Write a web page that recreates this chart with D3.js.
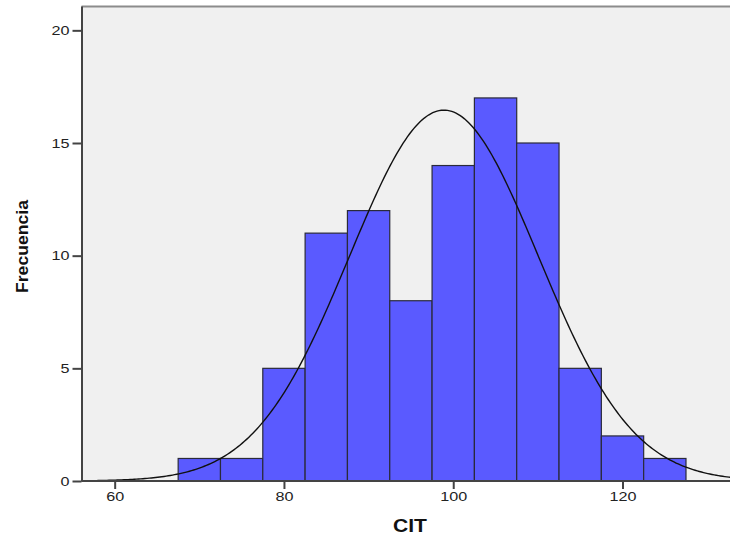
<!DOCTYPE html>
<html>
<head>
<meta charset="utf-8">
<script src="https://cdn.jsdelivr.net/npm/d3@7"></script>
<style>
  body { margin: 0; background: #fff; }
  svg { display: block; font-family: Arial, "Liberation Sans", sans-serif; }
</style>
</head>
<body>
<div id="chart"></div>
<script>
(function () {
  // histogram bins (lower edge) and counts
  let binStarts = [67.5, 72.5, 77.5, 82.5, 87.5, 92.5, 97.5, 102.5, 107.5, 112.5, 117.5, 122.5];
  let binWidth = 5;
  let counts = [1, 1, 5, 11, 12, 8, 14, 17, 15, 5, 2, 1];
  let xTicks = [60, 80, 100, 120];
  let yTicks = [0, 5, 10, 15, 20];
  // fitted normal curve parameters
  let curveMean = 98.9;
  let curveSd = 11.15;
  let curveN = 92;

  let margin = { top: 6, right: 0, bottom: 54, left: 81.5 };
  let width = 730 - margin.left - margin.right;
  let height = 535 - margin.top - margin.bottom;

  let x = d3.scaleLinear().domain([56.08, 132.7]).range([0, width]);
  let y = d3.scaleLinear().domain([0, 21.08]).range([height, 0]);

  let svg = d3
    .select('#chart')
    .append('svg')
    .attr('width', 730)
    .attr('height', 535);

  let g = svg.append('g').attr('transform', `translate(${margin.left}, ${margin.top})`);

  g.append('rect')
    .attr('x', 0)
    .attr('y', 0)
    .attr('width', width + 2)
    .attr('height', height)
    .attr('fill', '#f0f0f0');

  g.append('line')
    .attr('x1', 0)
    .attr('x2', width + 2)
    .attr('y1', 0.5)
    .attr('y2', 0.5)
    .attr('stroke', '#8c8c8c')
    .attr('stroke-width', 2);

  let data = binStarts.map((s, i) => ({ x0: s, x1: s + binWidth, count: counts[i] }));

  g.append('g')
    .selectAll('rect')
    .data(data)
    .enter()
    .append('rect')
    .attr('x', (d) => x(d.x0))
    .attr('y', (d) => y(d.count))
    .attr('width', (d) => x(d.x1) - x(d.x0))
    .attr('height', (d) => y(0) - y(d.count))
    .attr('fill', '#5a5aff')
    .attr('stroke', '#2a2a3a')
    .attr('stroke-width', 1.2);

  let dens = (v) =>
    (curveN * binWidth) / (curveSd * Math.sqrt(2 * Math.PI)) *
    Math.exp(-0.5 * Math.pow((v - curveMean) / curveSd, 2));

  let xs = d3.range(x.domain()[0], x.domain()[1] + 0.25, 0.25);

  g.append('path')
    .datum(xs)
    .attr('fill', 'none')
    .attr('stroke', '#111')
    .attr('stroke-width', 1.4)
    .attr('d', d3.line().x((v) => x(v)).y((v) => y(dens(v))));

  let xAxis = g
    .append('g')
    .attr('transform', `translate(0, ${height})`)
    .call(d3.axisBottom(x).tickValues(xTicks).tickSize(8).tickPadding(3).tickSizeOuter(0));

  let yAxis = g
    .append('g')
    .call(d3.axisLeft(y).tickValues(yTicks).tickSize(9).tickPadding(3).tickSizeOuter(0));

  [xAxis, yAxis].forEach((a) => {
    a.select('.domain').attr('stroke', '#444').attr('stroke-width', 2);
    a.selectAll('.tick line').attr('stroke', '#444').attr('stroke-width', 2);
    a.selectAll('.tick text')
      .attr('fill', '#222')
      .style('font-size', '12.8px')
      .style('font-family', 'Arial, "Liberation Sans", sans-serif')
      .attr('textLength', function () { return this.textContent.length * 9; })
      .attr('lengthAdjust', 'spacingAndGlyphs');
  });
  xAxis.select('.domain').attr('d', `M0,0H${width + 2}`);

  svg.append('text')
    .attr('x', 410)
    .attr('y', 532)
    .attr('text-anchor', 'middle')
    .attr('font-weight', 'bold')
    .attr('font-size', 17.5)
    .attr('fill', '#111')
    .attr('textLength', 34)
    .attr('lengthAdjust', 'spacingAndGlyphs')
    .text('CIT');

  svg.append('text')
    .attr('transform', 'translate(27.5, 246.5) rotate(-90)')
    .attr('text-anchor', 'middle')
    .attr('font-weight', 'bold')
    .attr('font-size', 16.5)
    .attr('fill', '#111')
    .attr('textLength', 93)
    .attr('lengthAdjust', 'spacingAndGlyphs')
    .text('Frecuencia');
})();
</script>
</body>
</html>
